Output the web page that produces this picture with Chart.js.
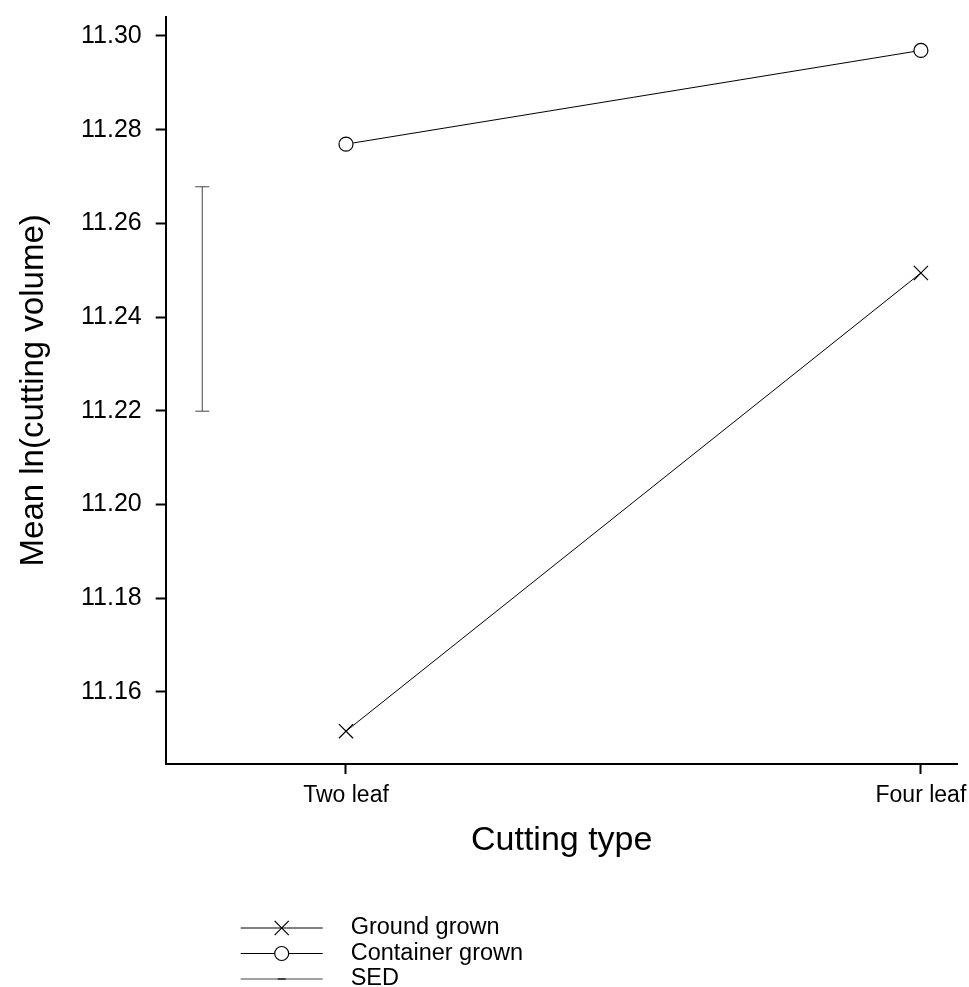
<!DOCTYPE html>
<html>
<head>
<meta charset="utf-8">
<script src="https://cdn.jsdelivr.net/npm/chart.js@4/dist/chart.umd.min.js"></script>
<style>html,body{margin:0;padding:0;background:#fff}</style>
</head>
<body>
<canvas id="chart" width="969" height="987"></canvas>
<script>
'use strict';
/* ── DATA ──────────────────────────────────── */
const categories     = ['Two leaf', 'Four leaf'];
const catPos         = [1, 2];
const groundGrown    = [11.1516, 11.2494];
const containerGrown = [11.2769, 11.2969];
const sedPos         = 0.75;
const sedRange       = [11.2199, 11.2678];
const yTicks         = [11.16, 11.18, 11.20, 11.22, 11.24, 11.26, 11.28, 11.30];
const yRange         = [11.1446, 11.3041];
const xRange         = [0.6864, 2.064];

const FONT = "'Liberation Sans', Arial, Helvetica, sans-serif";
const pts = (xs, ys) => xs.map((x, i) => ({ x, y: ys[i] }));

/* ── LEGEND (below the axes) ───────────────── */
const sketchLegend = {
  id: 'sketchLegend',
  afterDraw(chart) {
    const ctx = chart.ctx, ca = chart.chartArea;
    const x0 = ca.left + 75, x1 = ca.left + 157, tx = ca.left + 185;
    chart.data.datasets.forEach((ds, i) => {
      const y = ca.bottom + 164 + i * 25.5;
      ctx.save();
      ctx.strokeStyle = ds.borderColor; ctx.lineWidth = 1;
      ctx.beginPath(); ctx.moveTo(x0, y); ctx.lineTo(x1, y); ctx.stroke();
      ctx.fillStyle = ds.pointBackgroundColor || '#fff';
      ctx.strokeStyle = ds.pointBorderColor || ds.borderColor;
      ctx.lineWidth = ds.pointStyle === 'line' ? 2 : (ds.pointBorderWidth || 1);
      Chart.helpers.drawPoint(ctx, {
        pointStyle: ds.pointStyle, rotation: 0,
        radius: ds.pointStyle === 'line' ? 4 : ds.pointRadius,
        borderWidth: ctx.lineWidth
      }, (x0 + x1) / 2, y);
      ctx.fillStyle = '#000'; ctx.font = '23.5px ' + FONT; ctx.textBaseline = 'middle'; ctx.textAlign = 'left';
      ctx.fillText(ds.label, tx, y);
      ctx.restore();
    });
  }
};

const axisGrid = { drawOnChartArea: false, drawTicks: true, tickLength: 10, tickWidth: 2, tickColor: '#000' };
const axisBorder = { display: true, color: '#000', width: 2 };

new Chart(document.getElementById('chart'), {
  type: 'scatter',
  data: {
    datasets: [
      { label: 'Ground grown', data: pts(catPos, groundGrown), showLine: true,
        borderColor: '#000', borderWidth: 1, pointStyle: 'crossRot', pointRadius: 10,
        pointBorderWidth: 1.2, pointBorderColor: '#000', pointBackgroundColor: '#fff' },
      { label: 'Container grown', data: pts(catPos, containerGrown), showLine: true,
        borderColor: '#000', borderWidth: 1, pointStyle: 'circle', pointRadius: 7,
        pointBorderWidth: 1.2, pointBorderColor: '#000', pointBackgroundColor: '#fff' },
      { label: 'SED', data: pts([sedPos, sedPos], sedRange), showLine: true,
        borderColor: '#444', borderWidth: 1, pointStyle: 'line', pointRadius: 7,
        pointBorderWidth: 1, pointBorderColor: '#444', pointBackgroundColor: '#444' }
    ]
  },
  options: {
    responsive: false, animation: false, events: [],
    clip: false,
    layout: { padding: { top: 16.7, right: 11.3, bottom: 123, left: 0 } },
    plugins: { legend: { display: false }, tooltip: { enabled: false } },
    scales: {
      x: {
        type: 'linear', min: xRange[0], max: xRange[1],
        afterBuildTicks: s => { s.ticks = catPos.map(v => ({ value: v })); },
        afterFit: s => { s.height = 100; s.paddingLeft = 0; s.paddingRight = 0; },
        ticks: { callback: v => categories[catPos.indexOf(v)], font: { family: FONT, size: 23 },
                 color: '#000', padding: 8, maxRotation: 0, autoSkip: false },
        grid: axisGrid, border: axisBorder,
        title: { display: true, text: 'Cutting type', color: '#000',
                 font: { family: FONT, size: 34 }, padding: { top: 10, bottom: 3 } }
      },
      y: {
        type: 'linear', min: yRange[0], max: yRange[1],
        afterBuildTicks: s => { s.ticks = yTicks.map(v => ({ value: v })); },
        afterFit: s => { s.width = 165.7; s.paddingTop = 0; s.paddingBottom = 0; },
        ticks: { callback: v => v.toFixed(2), font: { family: FONT, size: 25 },
                 color: '#000', padding: 14, autoSkip: false },
        grid: axisGrid, border: axisBorder,
        title: { display: true, text: 'Mean ln(cutting volume)', color: '#000',
                 font: { family: FONT, size: 33 }, padding: { top: 14, bottom: 0 } }
      }
    }
  },
  plugins: [sketchLegend]
});
</script>
</body>
</html>
